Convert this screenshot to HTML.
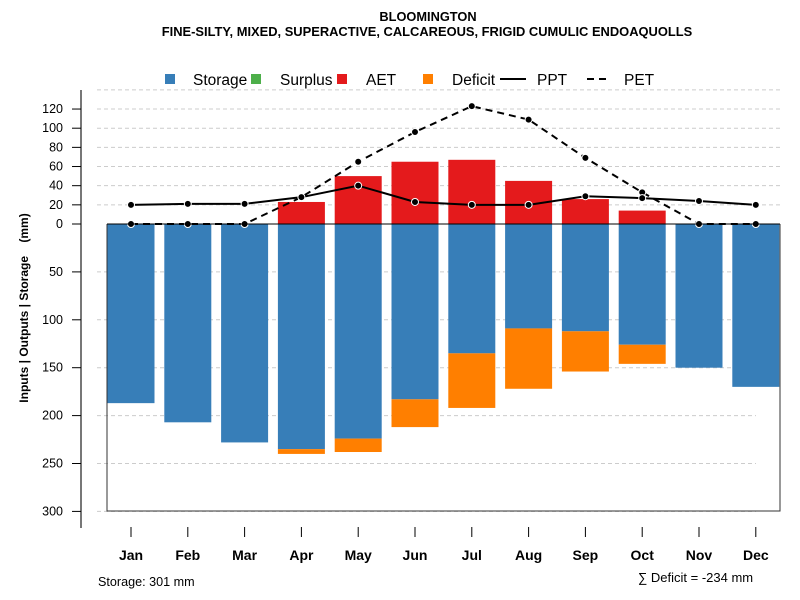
<!DOCTYPE html>
<html><head><meta charset="utf-8"><style>
body{margin:0;background:#fff}
svg{display:block;font-family:"Liberation Sans",Arial,sans-serif}
</style></head><body>
<svg id="c" width="800" height="600">
<text x="428" y="21" text-anchor="middle" font-size="12.8" font-weight="bold">BLOOMINGTON</text>
<text x="427" y="36" text-anchor="middle" font-size="12.9" font-weight="bold">FINE-SILTY, MIXED, SUPERACTIVE, CALCAREOUS, FRIGID CUMULIC ENDOAQUOLLS</text>
<g id="grid"></g><g id="bars"></g><g id="lines"></g><g id="axes"></g>
<g font-size="15.5">
<rect x="165" y="74" width="10" height="10" fill="#377eb8"/>
<text x="193" y="85">Storage</text>
<rect x="251" y="74" width="10" height="10" fill="#4daf4a"/>
<text x="280" y="85">Surplus</text>
<rect x="337" y="74" width="10" height="10" fill="#e41a1c"/>
<text x="366" y="85">AET</text>
<rect x="423" y="74" width="10" height="10" fill="#ff7f00"/>
<text x="452" y="85">Deficit</text>
<line x1="500" y1="79" x2="526" y2="79" stroke="#000" stroke-width="2"/>
<text x="537" y="85">PPT</text>
<line x1="587" y1="79" x2="609" y2="79" stroke="#000" stroke-width="2" stroke-dasharray="7,5"/>
<text x="624" y="85">PET</text>
</g>
<text transform="translate(28,308) rotate(-90)" text-anchor="middle" font-size="12" font-weight="bold">Inputs | Outputs | Storage &#160;&#160;&#160;(mm)</text>
<text x="98" y="586" font-size="12.6">Storage: 301 mm</text>
<text x="638" y="582" font-size="13">∑ Deficit = -234 mm</text>
</svg>
<script>
const months=["Jan","Feb","Mar","Apr","May","Jun","Jul","Aug","Sep","Oct","Nov","Dec"];
const storage=[187,207,228,235,224,183,135,109,112,126,150,170];
const deficit=[0,0,0,5,14,29,57,63,42,20,0,0];
const aet=[0,0,0,23,50,65,67,45,26,14,0,0];
const ppt=[20,21,21,28,40,23,20,20,29,27,24,20];
const pet=[0,0,0,28,65,96,123,109,69,33,0,0];
const posTicks=[0,20,40,60,80,100,120];
const negTicks=[50,100,150,200,250,300];
const NS="http://www.w3.org/2000/svg";
const Y0=224,K=0.958;
const y=v=>Y0-v*K;
const x=i=>131+i*56.8;
const BW=47;
function mk(p,t,a){const e=document.createElementNS(NS,t);for(const k in a)e.setAttribute(k,a[k]);document.getElementById(p).appendChild(e);return e;}
[140,...posTicks.slice(1)].forEach(v=>{const l=mk('grid','line',{x1:97,x2:780,y1:y(v),y2:y(v),stroke:'#ccc','stroke-dasharray':'4,3'});

});
negTicks.forEach(v=>{const l=mk('grid','line',{x1:97,x2:756,y1:y(-v),y2:y(-v),stroke:'#ccc','stroke-dasharray':'4,3'});

});
months.forEach((m,i)=>{
 const r=mk('bars','rect',{x:x(i)-BW/2,y:Y0,width:BW,height:storage[i]*K,fill:'#377eb8'});
 
 
 if(deficit[i]>0){const d=mk('bars','rect',{x:x(i)-BW/2,y:y(-storage[i]),width:BW,height:deficit[i]*K,fill:'#ff7f00'});
 
 }
 if(aet[i]>0){const a=mk('bars','rect',{x:x(i)-BW/2,y:y(aet[i]),width:BW,height:aet[i]*K,fill:'#e41a1c'});
 
 }
});
const bx=mk('axes','path',{d:`M107 ${Y0} V511 H780 V${Y0}`,fill:'none',stroke:'#333','stroke-width':1});


const zl=mk('axes','line',{x1:107,x2:780,y1:Y0,y2:Y0,stroke:'#000','stroke-width':1});


function series(vals,dash,name){
 const p=mk('lines','polyline',{points:vals.map((v,i)=>x(i)+','+y(v)).join(' '),fill:'none',stroke:'#000','stroke-width':2,'stroke-dasharray':dash});
 
 
 vals.forEach((v,i)=>{const c=mk('lines','circle',{cx:x(i),cy:y(v),r:3.5,fill:'#000',stroke:'#fff','stroke-width':1});
 
 });
}
series(pet,'7,5','pet');
series(ppt,'none','ppt');
const ya=mk('axes','line',{x1:81,x2:81,y1:90,y2:528,stroke:'#777','stroke-width':2});


function ytick(v,lab){
 const t=mk('axes','line',{x1:72,x2:81,y1:y(v),y2:y(v),stroke:'#000'});
 
 
 const tx=mk('axes','text',{x:63,y:y(v)+4,'text-anchor':'end','font-size':12.5});
 tx.textContent=lab;
 
 
}
posTicks.forEach(v=>ytick(v,v));
negTicks.forEach(v=>ytick(-v,v));
months.forEach((m,i)=>{
 const t=mk('axes','line',{x1:x(i),x2:x(i),y1:527,y2:537,stroke:'#000'});
 
 
 const tx=mk('axes','text',{x:x(i),y:560,'text-anchor':'middle','font-size':14,'font-weight':'bold'});
 tx.textContent=m;
 
 
});
</script>
</body></html>
